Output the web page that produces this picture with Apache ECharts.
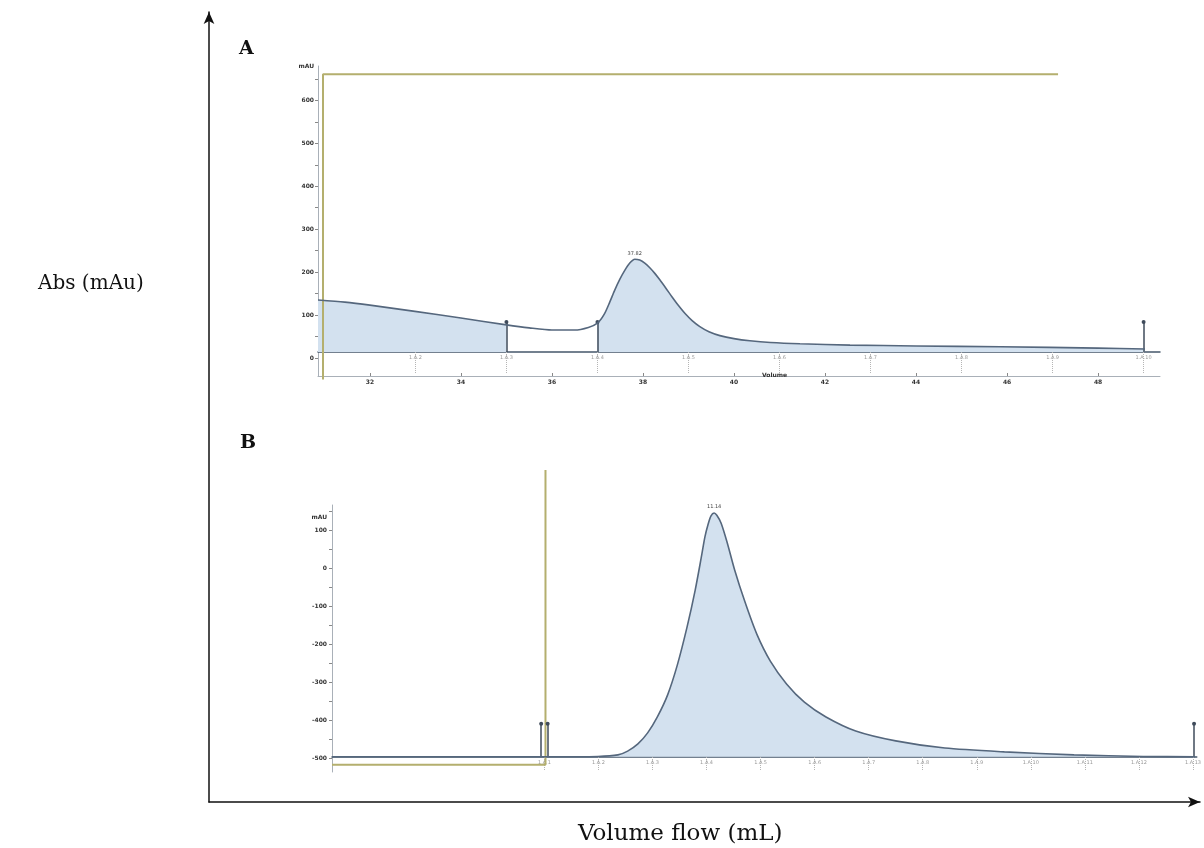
<!DOCTYPE html>
<html>
<head>
<meta charset="utf-8">
<script src="https://cdn.jsdelivr.net/npm/echarts@6/dist/echarts.min.js"></script>
<style>
  html, body { margin: 0; padding: 0; background: #ffffff; }
  #chart { width: 1204px; height: 848px; }
</style>
</head>
<body>
<div id="chart"></div>
<script>
// ---- Panel A: elution trace (volume in mL, absorbance in mAU) ----
const volumeA = [30.86, 31.45, 32, 32.95, 34, 35, 35.5, 36, 36.5, 36.8, 37, 37.15, 37.27, 37.38, 37.49, 37.6, 37.71, 37.82, 37.93, 38.04, 38.15, 38.26, 38.37, 38.5, 38.64, 38.78, 38.92, 39.08, 39.25, 39.45, 39.69, 40, 40.35, 40.8, 41.45, 42.55, 44, 45.85, 48, 49.03];
const absA    = [135, 130, 123, 109, 93, 77, 70, 65, 65, 71, 81, 102, 130, 158, 183, 204, 221, 230, 228, 221, 210, 197, 182, 163, 142, 122, 104, 87, 73, 61, 52, 45, 40, 36, 33, 30, 28, 26, 23, 21];
const fillRangesA = [[30.86, 35], [37, 49.03]];
const baselineA = 14;
const markerVolA = [35, 37, 49];
const markerTopA = 84;
const fractionVolA = [33, 35, 37, 39, 41, 43, 45, 47, 49];
const fractionNamesA = ['1.A.2', '1.A.3', '1.A.4', '1.A.5', '1.A.6', '1.A.7', '1.A.8', '1.A.9', '1.A.10'];
const volumeTicksA = [32, 34, 36, 38, 40, 42, 44, 46, 48];
const absTicksA = [0, 100, 200, 300, 400, 500, 600];
const conductVolA = [30.97, 30.97, 47.12];
const conductValA = [-50, 661, 661];

// ---- Panel B: elution trace ----
const volumeB = [4.07, 8.0, 8.99, 9.36, 9.54, 9.73, 9.91, 10.09, 10.28, 10.46, 10.64, 10.79, 10.9, 10.97, 11.03, 11.08, 11.14, 11.19, 11.27, 11.38, 11.52, 11.71, 11.93, 12.18, 12.48, 12.81, 13.21, 13.76, 14.5, 15.41, 16.51, 17.8, 19.08, 20.04];
const absB    = [-497, -497, -496, -492, -482, -463, -434, -392, -334, -255, -155, -58, 26, 82, 116, 137, 145, 139, 118, 68, -5, -89, -174, -245, -305, -353, -392, -429, -455, -474, -484, -492, -496, -497];
const fillRangesB = [[8.0, 20.04]];
const baselineB = -497;
const markerVolB = [7.94, 8.06, 20.02];
const markerTopB = -410;
const fractionVolB = [8, 9, 10, 11, 12, 13, 14, 15, 16, 17, 18, 19, 20];
const fractionNamesB = ['1.A.1', '1.A.2', '1.A.3', '1.A.4', '1.A.5', '1.A.6', '1.A.7', '1.A.8', '1.A.9', '1.A.10', '1.A.11', '1.A.12', '1.A.13'];
const absTicksB = [-500, -400, -300, -200, -100, 0, 100];
const conductVolB = [4.07, 8.02, 8.02];
const conductValB = [-518, -518, 258];

const TRACE = '#55677d';
const FILL = '#d3e1ef';
const OLIVE = '#b4af6e';
const MARK = '#3f4b5b';
const SMALL = 'DejaVu Sans';
const SERIF = 'DejaVu Serif';
const SMOOTH = 0.25;

const pairs = (xs, ys) => xs.map((x, i) => [x, ys[i]]);
const inRange = (xs, ys, r) => pairs(xs, ys).filter(p => p[0] >= r[0] - 1e-9 && p[0] <= r[1] + 1e-9);
const peakIndex = ys => ys.indexOf(Math.max(...ys));
const nameAt = (vals, names) => v => {
  const i = vals.findIndex(t => Math.abs(t - v) < 1e-6);
  return i >= 0 ? names[i] : '';
};

function traceSeries(xi, yi, xs, ys, base, markerVols, markerTop) {
  const pk = peakIndex(ys);
  return {
    type: 'line', xAxisIndex: xi, yAxisIndex: yi, data: pairs(xs, ys),
    smooth: SMOOTH, symbol: 'none', z: 5,
    lineStyle: { color: TRACE, width: 1.6 },
    markLine: {
      silent: true, animation: false, symbol: ['none', 'circle'], symbolSize: 4,
      label: { show: false },
      lineStyle: { color: MARK, width: 1.5, type: 'solid' },
      data: markerVols.map(v => [{ coord: [v, base] }, { coord: [v, markerTop] }])
    },
    markPoint: {
      silent: true, animation: false, symbol: 'circle', symbolSize: 1,
      itemStyle: { color: 'rgba(0,0,0,0)' },
      label: { show: true, position: 'top', distance: 3, fontSize: 5, fontFamily: SMALL, color: '#444',
               formatter: () => xs[pk].toFixed(2) },
      data: [{ coord: [xs[pk], ys[pk]] }]
    }
  };
}

function fillSeries(xi, yi, xs, ys, ranges, base) {
  return ranges.map(r => ({
    type: 'line', xAxisIndex: xi, yAxisIndex: yi, data: inRange(xs, ys, r),
    smooth: SMOOTH, symbol: 'none', z: 2,
    lineStyle: { width: 0 },
    areaStyle: { color: FILL, opacity: 1, origin: base }
  }));
}

const hidden = { show: false };

const option = {
  animation: false,
  backgroundColor: '#ffffff',
  title: [
    { text: 'Abs (mAu)', left: 33, top: 269, textStyle: { fontFamily: SERIF, fontSize: 20, fontWeight: 'normal', color: '#111' } },
    { text: 'Volume flow (mL)', left: 573, top: 818, textStyle: { fontFamily: SERIF, fontSize: 23, fontWeight: 'normal', color: '#111' } },
    { text: 'A', left: 234, top: 35, textStyle: { fontFamily: SERIF, fontSize: 19, fontWeight: 'bold', color: '#111' } },
    { text: 'B', left: 235, top: 429, textStyle: { fontFamily: SERIF, fontSize: 19, fontWeight: 'bold', color: '#111' } },
    { text: 'Volume', left: 757, top: 367, textStyle: { fontFamily: SMALL, fontSize: 6, fontWeight: 'bold', color: '#333' } }
  ],
  grid: [
    { left: 209, right: 4, top: 12, bottom: 46 },
    { left: 318, right: 44, top: 66, bottom: 472 },
    { left: 332, right: 0, top: 505, bottom: 76 }
  ],
  xAxis: [
    { gridIndex: 0, type: 'value', min: 0, max: 1,
      axisLine: { show: true, onZero: false, symbol: ['none', 'arrow'], symbolSize: [8, 12], lineStyle: { color: '#111', width: 1.5 } },
      axisTick: hidden, axisLabel: hidden, splitLine: hidden },
    { gridIndex: 1, type: 'value', min: 30.86, max: 49.36, position: 'bottom',
      axisLine: { show: true, onZero: false, lineStyle: { color: '#a9b0b8', width: 1 } },
      axisTick: { show: true, inside: true, length: 3, customValues: volumeTicksA, lineStyle: { color: '#888' } },
      axisLabel: { show: true, customValues: volumeTicksA, margin: 3, fontSize: 6, fontWeight: 'bold', fontFamily: SMALL, color: '#333' },
      splitLine: hidden },
    { gridIndex: 1, type: 'value', min: 30.86, max: 49.36, position: 'bottom', offset: -24,
      axisLine: { show: true, onZero: false, lineStyle: { color: '#46576b', width: 1.5 } },
      axisTick: { show: true, length: 22, customValues: fractionVolA, lineStyle: { color: '#b5b5b5', type: 'dotted' } },
      axisLabel: { show: true, customValues: fractionVolA, formatter: nameAt(fractionVolA, fractionNamesA),
                   margin: 3, fontSize: 5, fontFamily: SMALL, color: '#999' },
      splitLine: hidden },
    { gridIndex: 2, type: 'value', min: 4.07, max: 20.07, position: 'bottom', offset: -15,
      axisLine: { show: true, onZero: false, lineStyle: { color: '#46576b', width: 1.5 } },
      axisTick: { show: true, length: 14, customValues: fractionVolB, lineStyle: { color: '#b5b5b5', type: 'dotted' } },
      axisLabel: { show: true, customValues: fractionVolB, formatter: nameAt(fractionVolB, fractionNamesB),
                   margin: 3, fontSize: 5, fontFamily: SMALL, color: '#999' },
      splitLine: hidden }
  ],
  yAxis: [
    { gridIndex: 0, type: 'value', min: 0, max: 1,
      axisLine: { show: true, onZero: false, symbol: ['none', 'arrow'], symbolSize: [8, 12], lineStyle: { color: '#111', width: 1.5 } },
      axisTick: hidden, axisLabel: hidden, splitLine: hidden },
    { gridIndex: 1, type: 'value', min: -42, max: 680,
      axisLine: { show: true, onZero: false, lineStyle: { color: '#a9b0b8', width: 1 } },
      axisTick: { show: true, length: 3, customValues: [0, 50, 100, 150, 200, 250, 300, 350, 400, 450, 500, 550, 600, 650], lineStyle: { color: '#888' } },
      axisLabel: { show: true, customValues: absTicksA.concat([680]), formatter: v => (v === 680 ? 'mAU' : String(v)),
                   margin: 4, fontSize: 6, fontWeight: 'bold', fontFamily: SMALL, color: '#333' },
      splitLine: hidden },
    { gridIndex: 2, type: 'value', min: -537, max: 166,
      axisLine: { show: true, onZero: false, lineStyle: { color: '#a9b0b8', width: 1 } },
      axisTick: { show: true, length: 3, customValues: [-500, -450, -400, -350, -300, -250, -200, -150, -100, -50, 0, 50, 100, 150], lineStyle: { color: '#888' } },
      axisLabel: { show: true, customValues: absTicksB.concat([134]), formatter: v => (v === 134 ? 'mAU' : String(v)),
                   margin: 5, fontSize: 6, fontWeight: 'bold', fontFamily: SMALL, color: '#333' },
      splitLine: hidden }
  ],
  series: [
    ...fillSeries(1, 1, volumeA, absA, fillRangesA, baselineA),
    traceSeries(1, 1, volumeA, absA, baselineA, markerVolA, markerTopA),
    { type: 'line', xAxisIndex: 1, yAxisIndex: 1, data: pairs(conductVolA, conductValA), clip: false,
      symbol: 'none', z: 4, lineStyle: { color: OLIVE, width: 2 } },

    ...fillSeries(3, 2, volumeB, absB, fillRangesB, baselineB),
    traceSeries(3, 2, volumeB, absB, baselineB, markerVolB, markerTopB),
    { type: 'line', xAxisIndex: 3, yAxisIndex: 2, data: pairs(conductVolB, conductValB), clip: false,
      symbol: 'none', z: 4, lineStyle: { color: OLIVE, width: 2 } }
  ]
};

const chart = echarts.init(document.getElementById('chart'), null, { renderer: 'canvas' });
chart.setOption(option);
</script>
</body>
</html>
